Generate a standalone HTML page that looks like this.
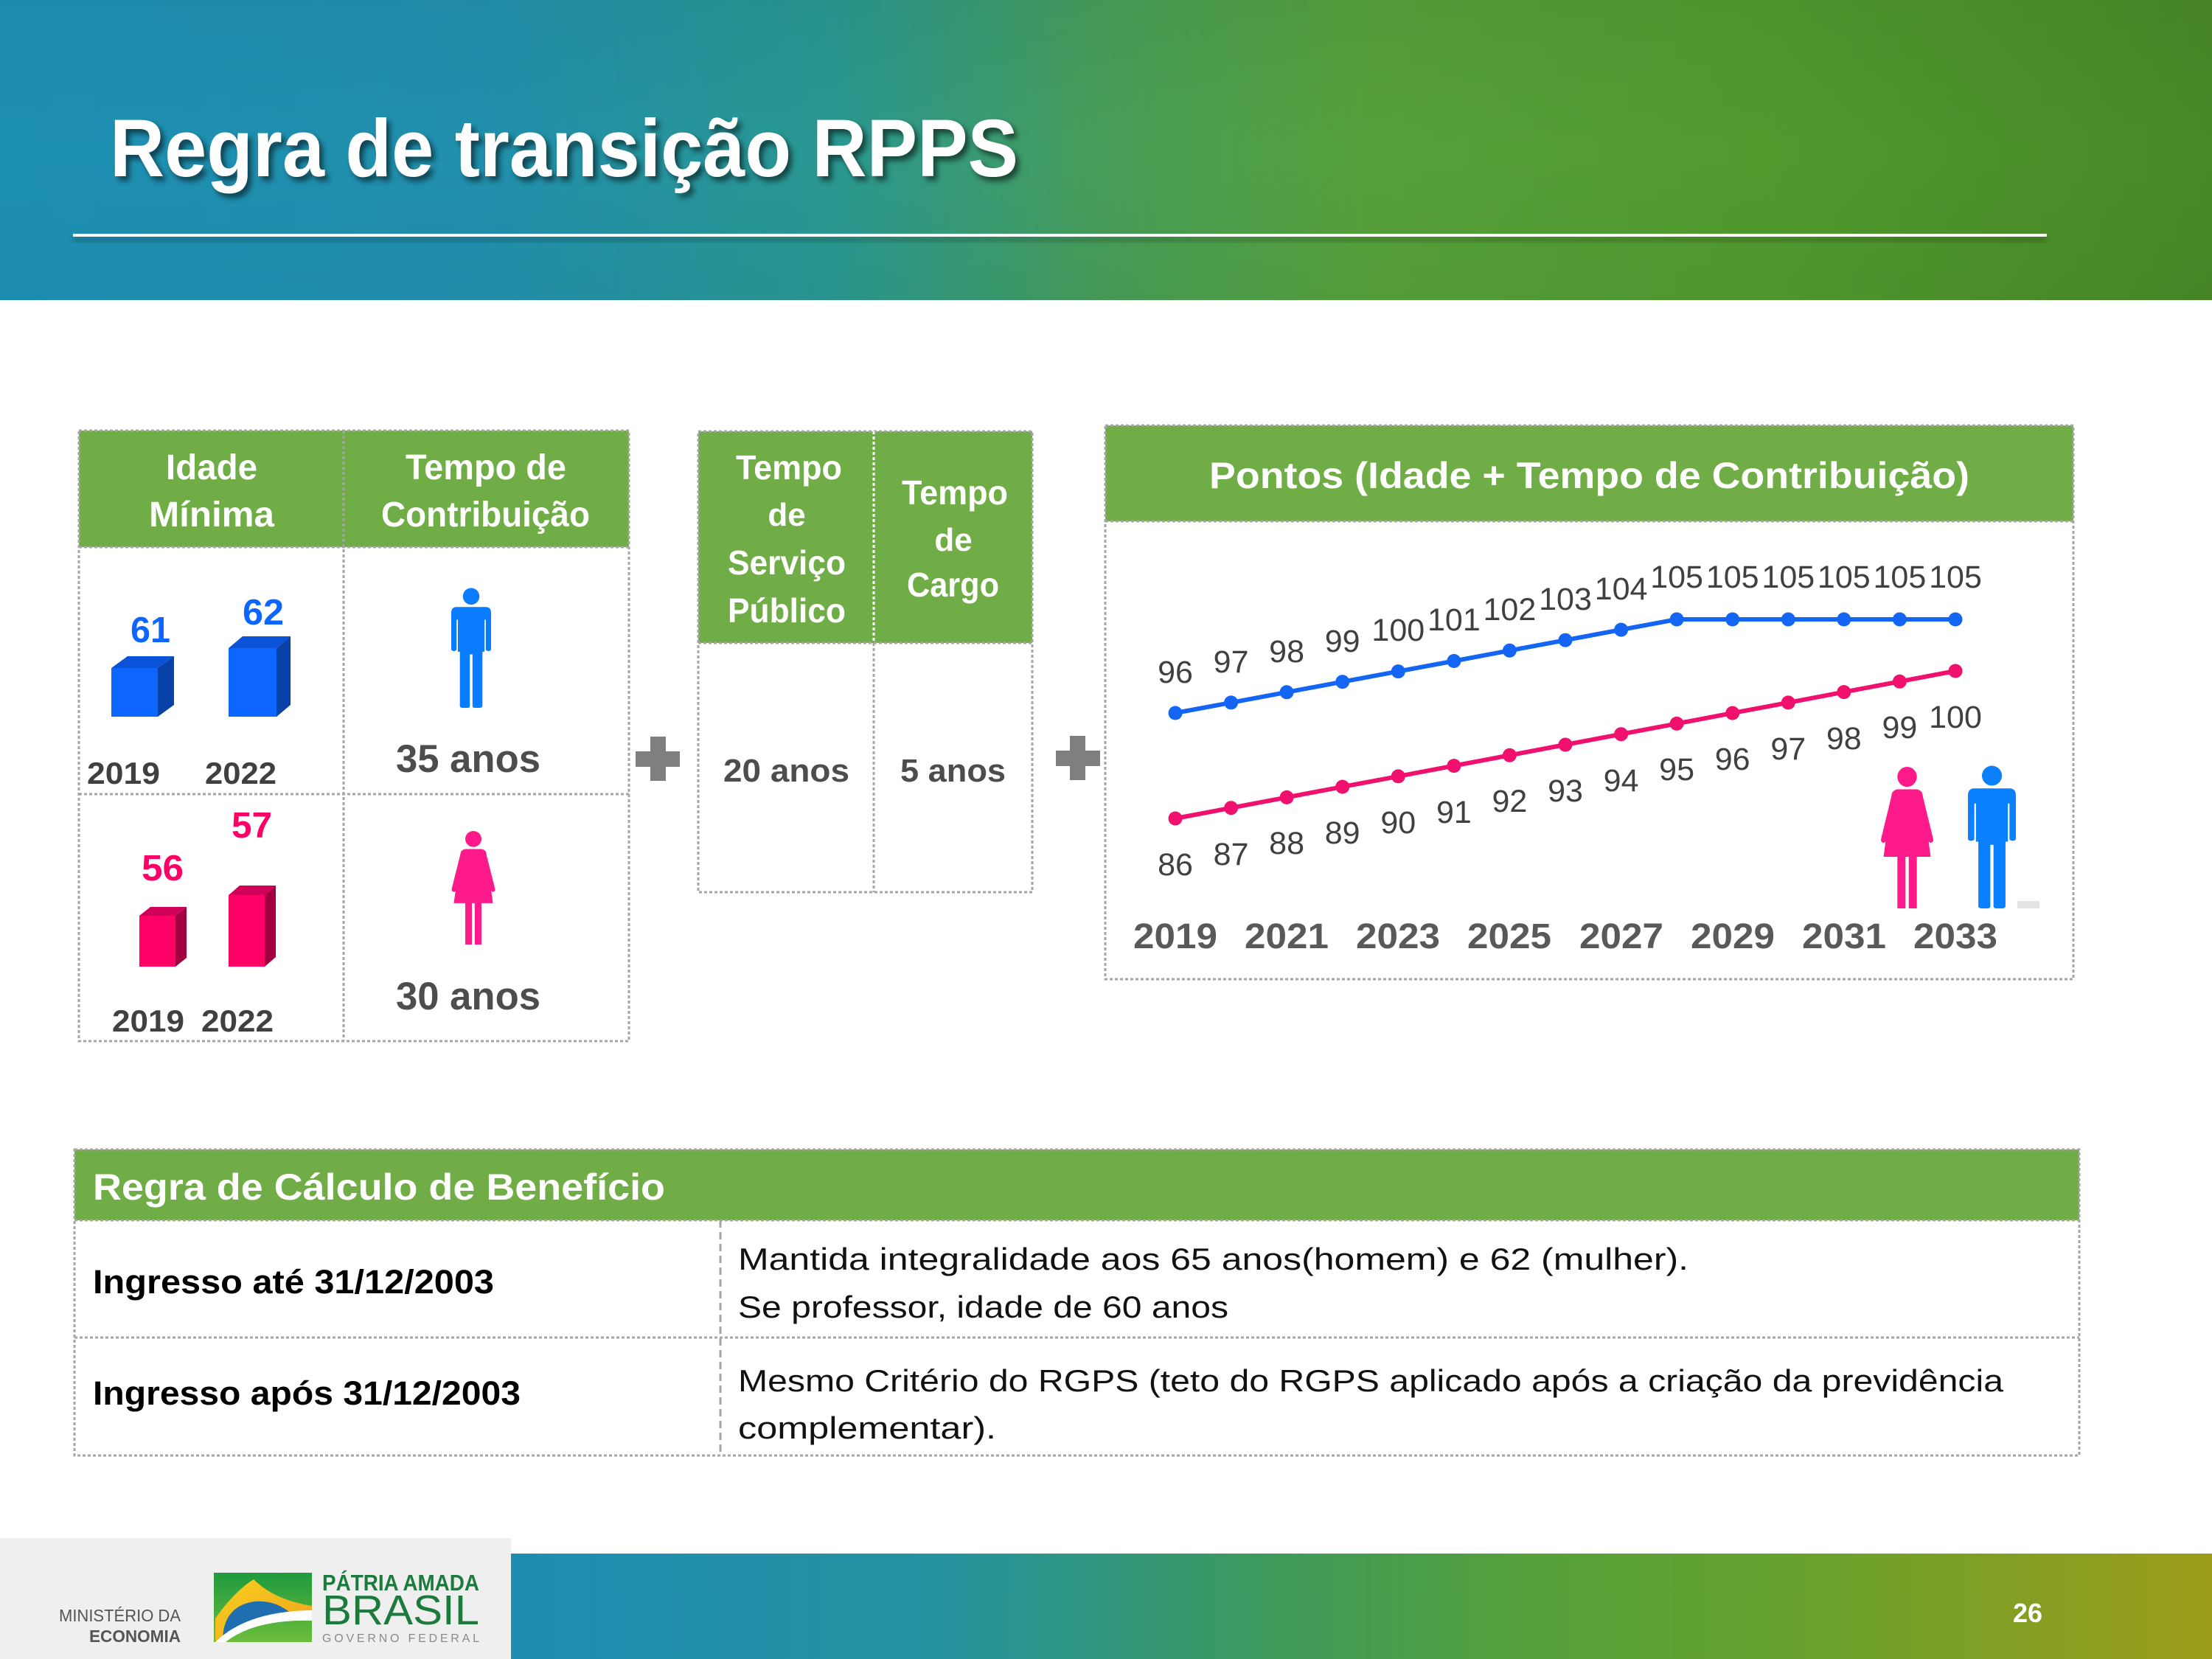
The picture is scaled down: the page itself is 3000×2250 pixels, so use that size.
<!DOCTYPE html>
<html>
<head>
<meta charset="utf-8">
<style>
  html,body{margin:0;padding:0;background:#fff;}
  body{width:3000px;height:2250px;position:relative;overflow:hidden;font-family:"Liberation Sans",sans-serif;}
  svg{position:absolute;left:0;top:0;}
  text{font-family:"Liberation Sans",sans-serif;}
</style>
</head>
<body>
<svg width="3000" height="2250" viewBox="0 0 3000 2250" xmlns="http://www.w3.org/2000/svg">
  <defs>
    <linearGradient id="hdr" x1="0" y1="0" x2="1" y2="0">
      <stop offset="0" stop-color="#1d90b4"/>
      <stop offset="0.22" stop-color="#2190ad"/>
      <stop offset="0.38" stop-color="#2a9890"/>
      <stop offset="0.5" stop-color="#479d58"/>
      <stop offset="0.62" stop-color="#55a03a"/>
      <stop offset="0.8" stop-color="#519a2e"/>
      <stop offset="1" stop-color="#488826"/>
    </linearGradient>
    <linearGradient id="hdrv" x1="0" y1="0" x2="0" y2="1">
      <stop offset="0" stop-color="#000" stop-opacity="0.04"/>
      <stop offset="0.5" stop-color="#000" stop-opacity="0"/>
      <stop offset="1" stop-color="#000" stop-opacity="0.03"/>
    </linearGradient>
    <linearGradient id="ftr" x1="0" y1="0" x2="1" y2="0">
      <stop offset="0" stop-color="#1e8db2"/>
      <stop offset="0.25" stop-color="#2593a0"/>
      <stop offset="0.45" stop-color="#3e9a5a"/>
      <stop offset="0.6" stop-color="#55a03a"/>
      <stop offset="0.75" stop-color="#66a22e"/>
      <stop offset="1" stop-color="#9c9c1a"/>
    </linearGradient>
    <linearGradient id="logoG" x1="0" y1="0" x2="0" y2="1">
      <stop offset="0" stop-color="#1f9a3e"/>
      <stop offset="1" stop-color="#6cbd3c"/>
    </linearGradient>
    <linearGradient id="logoY" x1="0" y1="0" x2="1" y2="1">
      <stop offset="0" stop-color="#f7d21c"/>
      <stop offset="1" stop-color="#f0a020"/>
    </linearGradient>
    <filter id="blur" x="-5%" y="-20%" width="110%" height="140%">
      <feGaussianBlur stdDeviation="4"/>
    </filter>
    <symbol id="man" viewBox="0 0 60 180" preserveAspectRatio="none">
      <circle cx="30" cy="13" r="12.5"/>
      <path d="M8,29 L52,29 Q60,29 60,38 L60,92 Q60,95 56,95 Q52,95 52,92 L52,48 L50,48 L50,96 L47,96 L47,177 Q47,180 43,180 L35,180 Q32,180 32,177 L32,100 L28,100 L28,177 Q28,180 25,180 L17,180 Q13,180 13,177 L13,96 L10,96 L10,48 L8,48 L8,92 Q8,95 4,95 Q0,95 0,92 L0,38 Q0,29 8,29 Z"/>
    </symbol>
    <symbol id="woman" viewBox="0 0 70 170" preserveAspectRatio="none">
      <circle cx="35" cy="12" r="12"/>
      <path d="M24,27 L46,27 Q52,27 54,33 L64,108 L6,108 L16,33 Q18,27 24,27 Z"/>
      <path d="M17,30 L21,32 L9,88 Q8,92 5,91 Q2,90 3,86 Z"/>
      <path d="M53,30 L49,32 L61,88 Q62,92 65,91 Q68,90 67,86 Z"/>
      <rect x="23" y="104" width="10" height="66"/>
      <rect x="37" y="104" width="10" height="66"/>
    </symbol>
  </defs>

  <!-- HEADER -->
  <rect x="0" y="0" width="3000" height="407" fill="url(#hdr)"/>
  <rect x="0" y="0" width="3000" height="407" fill="url(#hdrv)"/>
  <rect x="99" y="322" width="2677" height="6" fill="#000" opacity="0.25" filter="url(#blur)"/>
  <rect x="99" y="317" width="2677" height="4" fill="#ffffff"/>
  <text x="154" y="245" font-size="110" font-weight="bold" fill="#000" opacity="0.55" textLength="1232" lengthAdjust="spacingAndGlyphs" filter="url(#blur)">Regra de transição RPPS</text>
  <text x="149" y="239" font-size="110" font-weight="bold" fill="#ffffff" textLength="1232" lengthAdjust="spacingAndGlyphs">Regra de transição RPPS</text>

  <!-- LEFT TABLE -->
  <rect x="107" y="584" width="746" height="158" fill="#70ad47"/>
  <g stroke="#a6a6a6" stroke-width="3" stroke-dasharray="4 3" fill="none">
    <rect x="107" y="584" width="746" height="828"/>
    <line x1="107" y1="742" x2="853" y2="742"/>
    <line x1="107" y1="1077" x2="853" y2="1077"/>
    <line x1="466" y1="584" x2="466" y2="1412"/>
  </g>
  <g fill="#ffffff" font-weight="bold" font-size="48">
    <text x="225" y="650" textLength="124" lengthAdjust="spacingAndGlyphs">Idade</text>
    <text x="202" y="714" textLength="170" lengthAdjust="spacingAndGlyphs">Mínima</text>
    <text x="550" y="650" textLength="218" lengthAdjust="spacingAndGlyphs">Tempo de</text>
    <text x="517" y="714" textLength="283" lengthAdjust="spacingAndGlyphs">Contribuição</text>
  </g>
  <!-- blue bars -->
  <polygon points="151,906 173,890 236,890 214,906" fill="#0a52d8"/>
  <polygon points="214,906 236,890 236,956 214,972" fill="#0841a8"/>
  <rect x="151" y="906" width="63" height="66" fill="#0d66ff"/>
  <polygon points="310,879 329,863 394,863 375,879" fill="#0a52d8"/>
  <polygon points="375,879 394,863 394,956 375,972" fill="#0841a8"/>
  <rect x="310" y="879" width="65" height="93" fill="#0d66ff"/>
  <!-- pink bars -->
  <polygon points="189,1242 204,1230 253,1230 238,1242" fill="#d10058"/>
  <polygon points="238,1242 253,1230 253,1299 238,1311" fill="#a3003f"/>
  <rect x="189" y="1242" width="49" height="69" fill="#ff0066"/>
  <polygon points="310,1214 325,1201 374,1201 359,1214" fill="#d10058"/>
  <polygon points="359,1214 374,1201 374,1298 359,1311" fill="#a3003f"/>
  <rect x="310" y="1214" width="49" height="97" fill="#ff0066"/>
  <g font-weight="bold" font-size="49">
    <text x="177" y="871" fill="#0d66ff" textLength="54" lengthAdjust="spacingAndGlyphs">61</text>
    <text x="329" y="847" fill="#0d66ff" textLength="56" lengthAdjust="spacingAndGlyphs">62</text>
    <text x="192" y="1194" fill="#ff0066" textLength="57" lengthAdjust="spacingAndGlyphs">56</text>
    <text x="314" y="1136" fill="#ff0066" textLength="55" lengthAdjust="spacingAndGlyphs">57</text>
  </g>
  <g font-weight="bold" font-size="42" fill="#404040">
    <text x="118" y="1063" textLength="99" lengthAdjust="spacingAndGlyphs">2019</text>
    <text x="278" y="1063" textLength="97" lengthAdjust="spacingAndGlyphs">2022</text>
    <text x="152" y="1399" textLength="98" lengthAdjust="spacingAndGlyphs">2019</text>
    <text x="273" y="1399" textLength="98" lengthAdjust="spacingAndGlyphs">2022</text>
  </g>
  <use href="#man" x="612" y="797" width="54" height="163" fill="#0a7cff"/>
  <use href="#woman" x="610" y="1127" width="64" height="154" fill="#ff1a8c"/>
  <g font-weight="bold" font-size="53" fill="#4d4d4d">
    <text x="537" y="1047" textLength="196" lengthAdjust="spacingAndGlyphs">35 anos</text>
    <text x="537" y="1369" textLength="196" lengthAdjust="spacingAndGlyphs">30 anos</text>
  </g>

  <!-- PLUS SIGNS -->
  <g fill="#7f7f7f">
    <rect x="862" y="1019" width="60" height="21"/>
    <rect x="882" y="999" width="21" height="60"/>
    <rect x="1432" y="1018" width="60" height="21"/>
    <rect x="1451" y="998" width="21" height="60"/>
  </g>

  <!-- MIDDLE TABLE -->
  <rect x="947" y="585" width="453" height="287" fill="#70ad47"/>
  <g stroke="#a6a6a6" stroke-width="3" stroke-dasharray="4 3" fill="none">
    <rect x="947" y="585" width="453" height="625"/>
    <line x1="947" y1="872" x2="1400" y2="872"/>
  </g>
  <line x1="1185" y1="585" x2="1185" y2="872" stroke="#ffffff" stroke-width="3" stroke-dasharray="4 3"/>
  <line x1="1185" y1="872" x2="1185" y2="1210" stroke="#a6a6a6" stroke-width="3" stroke-dasharray="4 3"/>
  <g fill="#ffffff" font-weight="bold" font-size="46">
    <text x="998" y="650" textLength="144" lengthAdjust="spacingAndGlyphs">Tempo</text>
    <text x="1067" y="713" text-anchor="middle" font-size="44">de</text>
    <text x="987" y="779" textLength="160" lengthAdjust="spacingAndGlyphs">Serviço</text>
    <text x="987" y="844" textLength="160" lengthAdjust="spacingAndGlyphs">Público</text>
    <text x="1223" y="684" textLength="144" lengthAdjust="spacingAndGlyphs">Tempo</text>
    <text x="1293" y="747" text-anchor="middle" font-size="44">de</text>
    <text x="1230" y="809" textLength="125" lengthAdjust="spacingAndGlyphs">Cargo</text>
  </g>
  <g font-weight="bold" font-size="44" fill="#4d4d4d">
    <text x="981" y="1060" textLength="171" lengthAdjust="spacingAndGlyphs">20 anos</text>
    <text x="1221" y="1060" textLength="143" lengthAdjust="spacingAndGlyphs">5 anos</text>
  </g>

  <!-- RIGHT PANEL -->
  <rect x="1499" y="577" width="1313" height="130" fill="#70ad47"/>
  <g stroke="#a6a6a6" stroke-width="3" stroke-dasharray="4 3" fill="none">
    <rect x="1499" y="577" width="1313" height="751"/>
    <line x1="1499" y1="707" x2="2812" y2="707"/>
  </g>
  <text x="1640" y="662" font-size="50" font-weight="bold" fill="#ffffff" textLength="1031" lengthAdjust="spacingAndGlyphs">Pontos (Idade + Tempo de Contribuição)</text>

  <!-- lines -->
  <polyline fill="none" stroke="#1565f5" stroke-width="6" points="1594,967 1669.6,952.9 1745.1,938.8 1820.7,924.7 1896.3,910.6 1971.9,896.5 2047.4,882.3 2123,868.2 2198.6,854.1 2274.1,840 2349.7,840 2425.3,840 2500.8,840 2576.4,840 2652,840"/>
  <polyline fill="none" stroke="#f0106e" stroke-width="6" points="1594,1110 1669.6,1095.7 1745.1,1081.4 1820.7,1067.1 1896.3,1052.9 1971.9,1038.6 2047.4,1024.3 2123,1010 2198.6,995.7 2274.1,981.4 2349.7,967.1 2425.3,952.9 2500.8,938.6 2576.4,924.3 2652,910"/>
  <g fill="#1565f5">
    <circle cx="1594" cy="967" r="9.5"/><circle cx="1669.6" cy="952.9" r="9.5"/><circle cx="1745.1" cy="938.8" r="9.5"/><circle cx="1820.7" cy="924.7" r="9.5"/><circle cx="1896.3" cy="910.6" r="9.5"/><circle cx="1971.9" cy="896.5" r="9.5"/><circle cx="2047.4" cy="882.3" r="9.5"/><circle cx="2123" cy="868.2" r="9.5"/><circle cx="2198.6" cy="854.1" r="9.5"/><circle cx="2274.1" cy="840" r="9.5"/><circle cx="2349.7" cy="840" r="9.5"/><circle cx="2425.3" cy="840" r="9.5"/><circle cx="2500.8" cy="840" r="9.5"/><circle cx="2576.4" cy="840" r="9.5"/><circle cx="2652" cy="840" r="9.5"/>
  </g>
  <g fill="#f0106e">
    <circle cx="1594" cy="1110" r="9.5"/><circle cx="1669.6" cy="1095.7" r="9.5"/><circle cx="1745.1" cy="1081.4" r="9.5"/><circle cx="1820.7" cy="1067.1" r="9.5"/><circle cx="1896.3" cy="1052.9" r="9.5"/><circle cx="1971.9" cy="1038.6" r="9.5"/><circle cx="2047.4" cy="1024.3" r="9.5"/><circle cx="2123" cy="1010" r="9.5"/><circle cx="2198.6" cy="995.7" r="9.5"/><circle cx="2274.1" cy="981.4" r="9.5"/><circle cx="2349.7" cy="967.1" r="9.5"/><circle cx="2425.3" cy="952.9" r="9.5"/><circle cx="2500.8" cy="938.6" r="9.5"/><circle cx="2576.4" cy="924.3" r="9.5"/><circle cx="2652" cy="910" r="9.5"/>
  </g>
  <!-- blue labels -->
  <g font-size="43" fill="#404040" text-anchor="middle">
    <text x="1594" y="926">96</text>
    <text x="1669.6" y="912">97</text>
    <text x="1745.1" y="898">98</text>
    <text x="1820.7" y="884">99</text>
    <text x="1896.3" y="869">100</text>
    <text x="1971.9" y="855">101</text>
    <text x="2047.4" y="841">102</text>
    <text x="2123" y="827">103</text>
    <text x="2198.6" y="813">104</text>
    <text x="2274.1" y="797">105</text>
    <text x="2349.7" y="797">105</text>
    <text x="2425.3" y="797">105</text>
    <text x="2500.8" y="797">105</text>
    <text x="2576.4" y="797">105</text>
    <text x="2652" y="797">105</text>
  </g>
  <!-- pink labels -->
  <g font-size="43" fill="#404040" text-anchor="middle">
    <text x="1594" y="1187">86</text>
    <text x="1669.6" y="1173">87</text>
    <text x="1745.1" y="1158">88</text>
    <text x="1820.7" y="1144">89</text>
    <text x="1896.3" y="1130">90</text>
    <text x="1971.9" y="1116">91</text>
    <text x="2047.4" y="1101">92</text>
    <text x="2123" y="1087">93</text>
    <text x="2198.6" y="1073">94</text>
    <text x="2274.1" y="1058">95</text>
    <text x="2349.7" y="1044">96</text>
    <text x="2425.3" y="1030">97</text>
    <text x="2500.8" y="1016">98</text>
    <text x="2576.4" y="1001">99</text>
    <text x="2652" y="987">100</text>
  </g>
  <!-- years -->
  <g font-size="48" font-weight="bold" fill="#595959">
    <text x="1537" y="1286" textLength="114" lengthAdjust="spacingAndGlyphs">2019</text>
    <text x="1688" y="1286" textLength="114" lengthAdjust="spacingAndGlyphs">2021</text>
    <text x="1839" y="1286" textLength="114" lengthAdjust="spacingAndGlyphs">2023</text>
    <text x="1990" y="1286" textLength="114" lengthAdjust="spacingAndGlyphs">2025</text>
    <text x="2142" y="1286" textLength="114" lengthAdjust="spacingAndGlyphs">2027</text>
    <text x="2293" y="1286" textLength="114" lengthAdjust="spacingAndGlyphs">2029</text>
    <text x="2444" y="1286" textLength="114" lengthAdjust="spacingAndGlyphs">2031</text>
    <text x="2595" y="1286" textLength="114" lengthAdjust="spacingAndGlyphs">2033</text>
  </g>
  <use href="#woman" x="2548" y="1040" width="77" height="192" fill="#ff1a8c"/>
  <use href="#man" x="2669" y="1038" width="65" height="194" fill="#0a80ff"/>
  <rect x="2736" y="1222" width="30" height="10" fill="#e3e3e3"/>

  <!-- BOTTOM TABLE -->
  <rect x="101" y="1559" width="2719" height="96" fill="#70ad47"/>
  <g stroke="#a6a6a6" stroke-width="3" stroke-dasharray="4 3" fill="none">
    <rect x="101" y="1559" width="2719" height="415"/>
    <line x1="101" y1="1655" x2="2820" y2="1655"/>
    <line x1="101" y1="1814" x2="2820" y2="1814"/>
  </g>
  <line x1="977" y1="1655" x2="977" y2="1974" stroke="#a6a6a6" stroke-width="3" stroke-dasharray="10 6"/>
  <text x="126" y="1627" font-size="50" font-weight="bold" fill="#ffffff" textLength="776" lengthAdjust="spacingAndGlyphs">Regra de Cálculo de Benefício</text>
  <g font-size="45" font-weight="bold" fill="#000">
    <text x="126" y="1754" textLength="544" lengthAdjust="spacingAndGlyphs">Ingresso até 31/12/2003</text>
    <text x="126" y="1905" textLength="580" lengthAdjust="spacingAndGlyphs">Ingresso após 31/12/2003</text>
  </g>
  <g font-size="42" fill="#111">
    <text x="1001" y="1722" textLength="1289" lengthAdjust="spacingAndGlyphs">Mantida integralidade aos 65 anos(homem) e 62 (mulher).</text>
    <text x="1001" y="1787" textLength="665" lengthAdjust="spacingAndGlyphs">Se professor, idade de 60 anos</text>
    <text x="1001" y="1887" textLength="1716" lengthAdjust="spacingAndGlyphs">Mesmo Critério do RGPS (teto do RGPS aplicado após a criação da previdência</text>
    <text x="1001" y="1951" textLength="350" lengthAdjust="spacingAndGlyphs">complementar).</text>
  </g>

  <!-- FOOTER -->
  <rect x="0" y="2086" width="693" height="164" fill="#efefef"/>
  <rect x="693" y="2107" width="2307" height="143" fill="url(#ftr)"/>
  <text x="2730" y="2200" font-size="36" font-weight="bold" fill="#ffffff" textLength="40" lengthAdjust="spacingAndGlyphs">26</text>
  <text x="80" y="2199" font-size="23" fill="#555" textLength="165" lengthAdjust="spacingAndGlyphs">MINISTÉRIO DA</text>
  <text x="121" y="2227" font-size="23" font-weight="bold" fill="#555" textLength="124" lengthAdjust="spacingAndGlyphs">ECONOMIA</text>
  <!-- logo square -->
  <rect x="290" y="2133" width="133" height="94" fill="url(#logoG)"/>
  <path d="M292,2225 L292,2195 Q318,2158 344,2142 Q372,2170 423,2178 L423,2198 Q350,2190 300,2226 Z" fill="url(#logoY)"/>
  <path d="M302,2222 Q304,2178 345,2172 Q372,2170 392,2186 Q340,2192 302,2222 Z" fill="#1f6fb0"/>
  <path d="M292,2227 Q335,2185 423,2184 L423,2198 Q345,2196 306,2227 Z" fill="#ffffff"/>
  <text x="437" y="2157" font-size="31" font-weight="bold" fill="#1b7a3c" textLength="213" lengthAdjust="spacingAndGlyphs">PÁTRIA AMADA</text>
  <text x="437" y="2203" font-size="57" fill="#1b7a3c" textLength="213" lengthAdjust="spacingAndGlyphs">BRASIL</text>
  <text x="437" y="2227" font-size="16" fill="#8a8a8a" textLength="213" lengthAdjust="spacing">GOVERNO FEDERAL</text>
</svg>
</body>
</html>
